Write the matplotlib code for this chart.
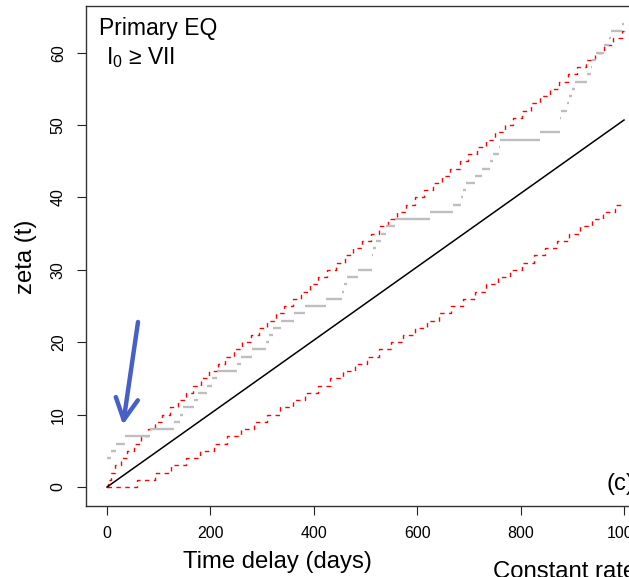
"""Cumulative count zeta(t) of primary earthquakes (I0 >= VII) against time
delay, with the constant-rate expectation and its stepped red band."""

import matplotlib
matplotlib.use("Agg")
import matplotlib.pyplot as plt

plt.rcParams["font.family"] = ["Liberation Sans", "DejaVu Sans"]
plt.rcParams["mathtext.fontset"] = "custom"
plt.rcParams["mathtext.rm"] = "Liberation Sans"
plt.rcParams["mathtext.it"] = "Liberation Sans"

# observed counts: day at which each level starts (levels 4..64), last end day
obs_first_level = 4
obs_start_days = [0, 8, 17, 35, 83, 130, 142, 147, 169, 176, 193, 204, 213,
                  252, 260, 280, 308, 314, 321, 336, 361, 383, 423, 455, 458,
                  464, 486, 512, 513, 514, 520, 530, 539, 558, 624, 669, 684,
                  689, 694, 712, 725, 740, 747, 759, 761, 837, 876, 877, 879,
                  889, 893, 900, 906, 929, 936, 938, 945, 962, 971, 974, 996]
obs_end_day = 1000

# constant rate line
rate_days = [0, 1000]
rate_values = [0, 50.7]

# upper band: day at which the band steps up to level 1, 2, 3 ...
upper_step_days = [1, 7, 16, 27, 39, 52, 65, 79, 93, 107, 122, 137, 152, 167,
                   182, 198, 214, 229, 245, 261, 278, 294, 310, 326, 343, 359,
                   376, 393, 409, 426, 443, 460, 476, 493, 510, 527, 544, 561,
                   578, 596, 613, 630, 647, 664, 682, 699, 716, 734, 751, 769,
                   786, 803, 821, 838, 856, 874, 891, 909, 926, 944, 961, 979,
                   997]
# lower band: day at which the band steps up to level 1, 2, 3 ...
lower_step_days = [59, 93, 124, 153, 180, 207, 233, 259, 285, 310, 334, 359,
                   383, 408, 432, 456, 479, 503, 526, 550, 573, 596, 619, 642,
                   666, 689, 712, 734, 757, 780, 802, 825, 848, 870, 893, 915,
                   938, 960, 982]
band_end_day = 1000

x_ticks = [0, 200, 400, 600, 800, 1000]
y_ticks = [0, 10, 20, 30, 40, 50, 60]

W, H = 629, 577
fig = plt.figure(figsize=(W / 100, H / 100), dpi=100)
# axes box in pixels: left 86, right 645 (off the image), top 6, bottom 506
ax = fig.add_axes([86 / W, 1 - 506 / H, (645 - 86) / W, (506 - 6) / H])
ax.set_xlim(-40.6, 1040.6)
ax.set_ylim(-2.62, 66.45)


def _band(step_days, end_day):
    xs = [0] + list(step_days) + [end_day]
    ys = list(range(len(step_days) + 1)) + [len(step_days)]
    return xs, ys


for steps in (upper_step_days, lower_step_days):
    xs, ys = _band(steps, band_end_day)
    ax.plot(xs, ys, drawstyle="steps-post", color="red", lw=1.0,
            linestyle=(0, (3.2, 3.2)))

ax.plot(rate_days, rate_values, color="black", lw=1.1)

levels = list(range(obs_first_level, obs_first_level + len(obs_start_days)))
ends = obs_start_days[1:] + [obs_end_day]
ax.hlines(levels, obs_start_days, ends, colors="#BEBEBE", lw=1.7)

ax.annotate("", xy=(31, 8.6), xytext=(60, 22.8),
            arrowprops=dict(arrowstyle="->,head_length=1.55,head_width=0.8",
                            color="#4760C8", lw=3.2, mutation_scale=10,
                            shrinkA=0, shrinkB=0))

ax.set_xticks(x_ticks)
ax.set_yticks(y_ticks)
ax.tick_params(direction="out", length=6.5, width=0.8, labelsize=11.5,
               pad=8, colors="#222222", labelcolor="black")
for lab in ax.get_yticklabels():
    lab.set_rotation(90)
    lab.set_va("center")
for s in ax.spines.values():
    s.set_linewidth(1.0)
    s.set_color("#333333")

# panel notes, positions in axes pixels (axes is 559 x 500 px)
ax.text(13 / 559, (506 - 35) / 500, "Primary EQ", transform=ax.transAxes,
        fontsize=16.5, va="baseline")
ax.text(20 / 559, (506 - 64) / 500, r"I$_{0}$ ≥ VII", transform=ax.transAxes,
        fontsize=16.5, va="baseline")
ax.text((607 - 86) / 559, (506 - 490) / 500, "(c)", transform=ax.transAxes,
        fontsize=17, va="baseline")

fig.text(26 / W, 1 - 257 / H, "zeta (t)", rotation=90, ha="center",
         va="center", fontsize=17.2)
fig.text(277 / W, 1 - 562 / H, "Time delay (days)", ha="center",
         va="center", fontsize=17.2)
fig.text(493 / W, 1 - 561 / H, "Constant rate", ha="left", va="top",
         fontsize=17.2)

fig.savefig("out.png", dpi=100)
